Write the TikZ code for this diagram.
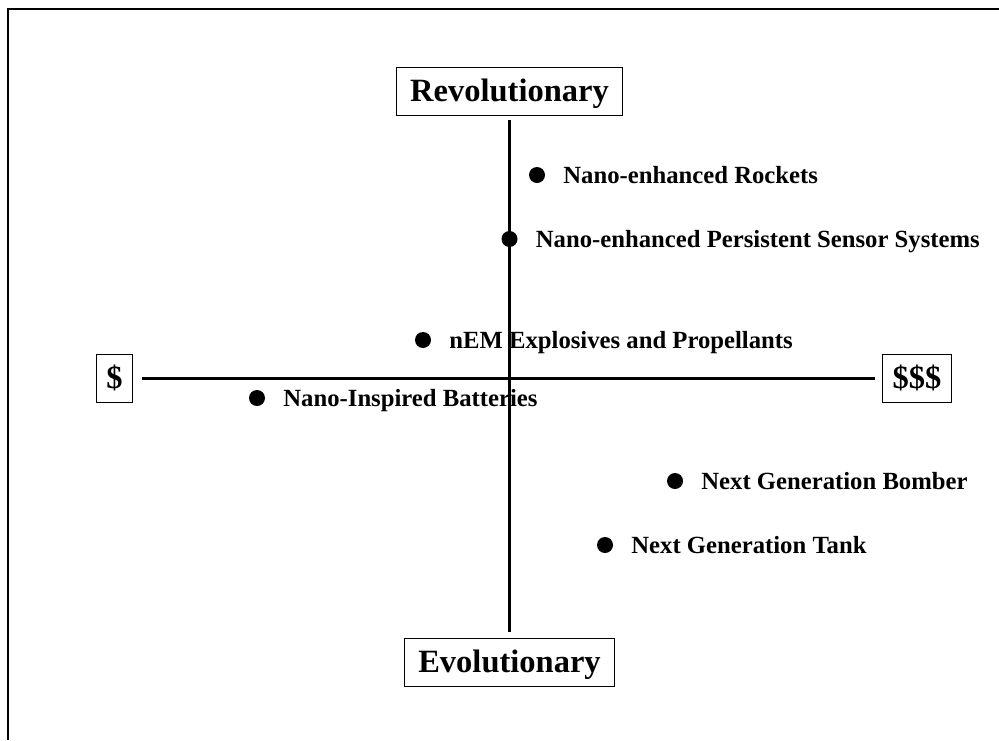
\documentclass[tikz,border=0pt]{standalone}
\usepackage{fontspec}
\setmainfont{Liberation Serif}
\usetikzlibrary{positioning}

\tikzset{
  endbox/.style={draw, line width=0.8pt, font=\bfseries\fontsize{32.5}{36}\selectfont,
    minimum height=48pt, inner xsep=14pt, text height=21pt, text depth=0pt},
  bullet/.style={circle, fill, minimum size=16pt, inner sep=0pt},
  lbl/.style={font=\bfseries\fontsize{24.7}{28}\selectfont, inner sep=0pt,
    text height=16pt, text depth=0pt},
  axis/.style={line width=3pt}
}

\begin{document}
\begin{tikzpicture}[x=1pt,y=1pt]
            \useasboundingbox (0,0) rectangle (999,-740);
            \draw[line width=2pt] (999,-9) -- (8,-9) -- (8,-740);

            \node[endbox] (rev) at (509.5,-91) {Revolutionary};
            \node[endbox] (evo) at (509.5,-662) {Evolutionary};
            \node[endbox, inner xsep=10pt] (lo) at (114.5,-378) {\$};
            \node[endbox, inner xsep=10pt] (hi) at (917,-378) {\$\$\$};

            \node[bullet] (d1) at (537,-175) {};
            \node[lbl, right=18pt of d1] (t1) {Nano-enhanced Rockets};
            \node[bullet] (d2) at (509.5,-239) {};
            \node[lbl, right=18pt of d2] (t2) {Nano-enhanced Persistent Sensor Systems};
            \node[bullet] (d3) at (423,-340) {};
            \node[lbl, right=18pt of d3] (t3) {nEM Explosives and Propellants};
            \node[bullet] (d4) at (257,-398) {};
            \node[lbl, right=18pt of d4] (t4) {Nano-Inspired Batteries};
            \node[bullet] (d5) at (675,-481) {};
            \node[lbl, right=18pt of d5] (t5) {Next Generation Bomber};
            \node[bullet] (d6) at (605,-545) {};
            \node[lbl, right=18pt of d6] (t6) {Next Generation Tank};

            \draw[axis, shorten <=5pt, shorten >=6pt] (rev) -- (evo);
            \draw[axis, shorten <=9pt, shorten >=7pt] (lo) -- (hi);
        \end{tikzpicture}
\end{document}
